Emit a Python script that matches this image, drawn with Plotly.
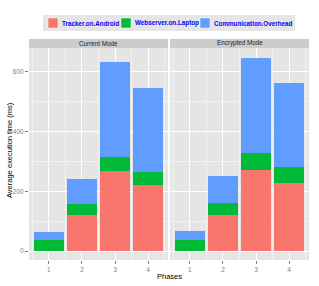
import plotly.graph_objects as go

phases = [1, 2, 3, 4]
modes = ["Current Mode", "Encrypted Mode"]
series_names = ["Tracker.on.Android", "Webserver.on.Laptop", "Communication.Overhead"]
colors = ["#F8766D", "#00BA38", "#619CFF"]

current_tracker = [0, 120, 267, 220]
current_webserver = [36, 36, 49, 43]
current_overhead = [29, 86, 315, 282]

encrypted_tracker = [0, 122, 272, 229]
encrypted_webserver = [36, 40, 57, 53]
encrypted_overhead = [30, 88, 316, 280]

data = {
    "Current Mode": [current_tracker, current_webserver, current_overhead],
    "Encrypted Mode": [encrypted_tracker, encrypted_webserver, encrypted_overhead],
}

W, H = 319, 286
def px_x(p):
    return p / W
def px_y(p):
    return 1 - p / H

fig = go.Figure()
axes = [("x", "y"), ("x2", "y2")]
for mi, mode in enumerate(modes):
    xa, ya = axes[mi]
    for si, name in enumerate(series_names):
        fig.add_trace(go.Bar(
            x=phases, y=data[mode][si], name=name,
            marker=dict(color=colors[si], line=dict(width=0)),
            xaxis=xa, yaxis=ya, showlegend=False,
        ))

tickfont = dict(family="Liberation Sans, Arial", size=6.5, color="#7F7F7F")
common_x = dict(
    range=[0.4, 4.6], tickvals=phases, ticktext=[str(p) for p in phases],
    showgrid=True, gridcolor="white", gridwidth=1,
    minor=dict(tick0=0.5, dtick=1, showgrid=True, gridcolor="#F2F2F2", gridwidth=0.6, ticks=""),
    ticks="outside", ticklen=3, tickcolor="#7F7F7F", tickfont=tickfont,
    zeroline=False, showline=False, automargin=False,
)
common_y = dict(
    range=[-30, 679], tickvals=[0, 200, 400, 600],
    showgrid=True, gridcolor="white", gridwidth=1,
    minor=dict(tick0=100, dtick=200, showgrid=True, gridcolor="#F2F2F2", gridwidth=0.6, ticks=""),
    zeroline=False, showline=False, tickfont=tickfont, automargin=False,
)

yb, yt = px_y(260), px_y(48)
fig.update_layout(
    width=W, height=H,
    margin=dict(l=0, r=0, t=0, b=0),
    paper_bgcolor="white", plot_bgcolor="#E5E5E5",
    barmode="stack", bargap=0.1, showlegend=False,
    font=dict(family="Liberation Sans, Arial", size=8, color="black"),
    xaxis=dict(domain=[px_x(29), px_x(168)], anchor="y", **common_x),
    xaxis2=dict(domain=[px_x(170), px_x(309)], anchor="y2", **common_x),
    yaxis=dict(domain=[yb, yt], anchor="x", ticks="outside", ticklen=3, tickcolor="#7F7F7F",
               **common_y),
    yaxis2=dict(domain=[yb, yt], anchor="x2", showticklabels=False, ticks="", **common_y),
)

# facet strips
for xl, xr, label in [(29, 168, modes[0]), (170, 309, modes[1])]:
    fig.add_shape(type="rect", xref="paper", yref="paper",
                  x0=px_x(xl), x1=px_x(xr), y0=px_y(48), y1=px_y(39),
                  fillcolor="#CCCCCC", line=dict(width=0), layer="below")
    fig.add_annotation(text=label, xref="paper", yref="paper",
                       x=px_x((xl + xr) / 2), y=px_y(43.5), showarrow=False,
                       font=dict(size=6.3, color="#1A1A1A"), xanchor="center", yanchor="middle")

# axis titles
fig.add_annotation(text="Phases", xref="paper", yref="paper", x=px_x(169), y=px_y(276),
                   showarrow=False, font=dict(size=7.5, color="black"), yanchor="middle")
fig.add_annotation(text="Average execution time (ms)", xref="paper", yref="paper",
                   x=px_x(9), y=px_y(150), textangle=-90, showarrow=False,
                   font=dict(size=7.5, color="black"), xanchor="center", yanchor="middle")

# legend (drawn manually, ggplot style)
fig.add_shape(type="rect", xref="paper", yref="paper",
              x0=px_x(43), x1=px_x(295), y0=px_y(31), y1=px_y(15),
              fillcolor="#E5E5E5", line=dict(width=0), layer="below")
key_x = [48, 121, 200]
for si, name in enumerate(series_names):
    kx = key_x[si]
    fig.add_shape(type="rect", xref="paper", yref="paper",
                  x0=px_x(kx), x1=px_x(kx + 10), y0=px_y(28), y1=px_y(18),
                  fillcolor=colors[si], line=dict(color="white", width=0.5))
    fig.add_annotation(text="<b>" + name + "</b>", xref="paper", yref="paper",
                       x=px_x(kx + 12), y=px_y(23), xanchor="left", yanchor="middle",
                       showarrow=False, font=dict(size=6.3, color="#0000FF"))

fig.write_html("out.html", config={"displayModeBar": False})

# remove default page margin so the figure sits at the window origin
with open("out.html", "r", encoding="utf-8") as f:
    html = f.read()
html = html.replace("<head>", "<head><style>html,body{margin:0;padding:0;}</style>", 1)
with open("out.html", "w", encoding="utf-8") as f:
    f.write(html)
